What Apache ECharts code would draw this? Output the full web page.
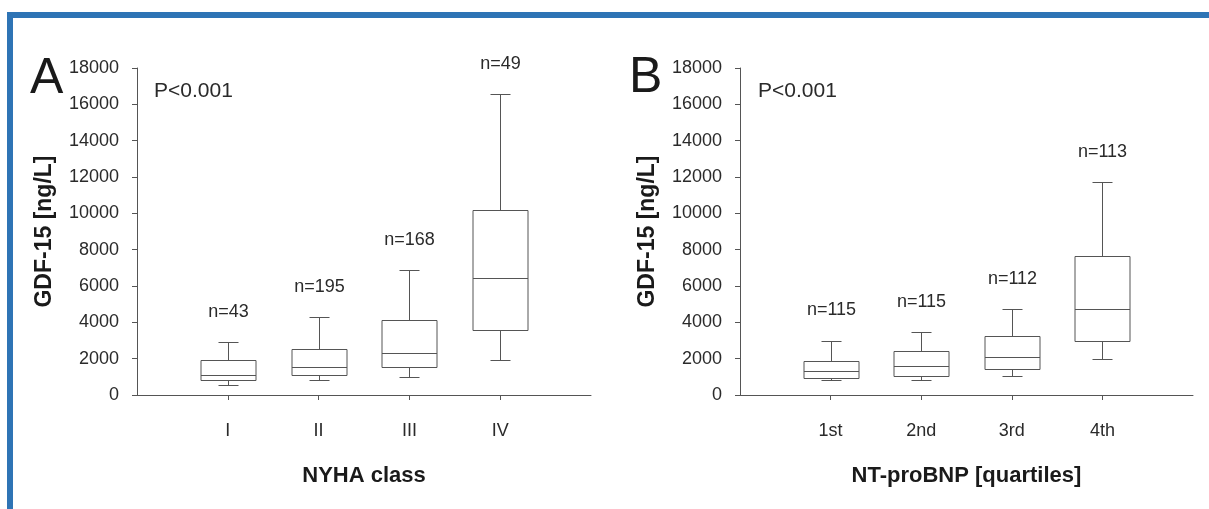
<!DOCTYPE html>
<html>
<head>
<meta charset="utf-8">
<script src="https://cdn.jsdelivr.net/npm/echarts@6/dist/echarts.min.js"></script>
<style>
html,body{margin:0;padding:0;background:#fff;}
#chart{width:1209px;height:509px;}
</style>
</head>
<body>
<div id="chart"></div>
<script>
// ---- data ----
const catsA = ['I', 'II', 'III', 'IV'];
const nA = [43, 195, 168, 49];
// [whisker low, Q1, median, Q3, whisker high]
const boxA = [
  [550, 850, 1100, 1900, 2900],
  [800, 1100, 1550, 2550, 4300],
  [1000, 1550, 2300, 4150, 6900],
  [1900, 3600, 6450, 10200, 16550]
];
const catsB = ['1st', '2nd', '3rd', '4th'];
const nB = [115, 115, 112, 113];
const boxB = [
  [850, 950, 1300, 1850, 3000],
  [850, 1050, 1600, 2400, 3450],
  [1050, 1450, 2100, 3250, 4750],
  [2000, 2950, 4750, 7650, 11700]
];
const yMin = 0, yMax = 18000, yStep = 2000;
const catPositions = [1, 2, 3, 4];
const panelLetters = ['A', 'B'];
const pText = 'P<0.001';
const xTitles = ['NYHA class', 'NT-proBNP [quartiles]'];
const yTitle = 'GDF-15 [ng/L]';

const FONT = 'Liberation Sans, Arial, sans-serif';
const LINE = '#555';
const TXT = '#2a2a2a';

function makeRender(nArr) {
  return function (params, api) {
    const x = api.value(0);
    const lo = api.coord([x, api.value(1)]);
    const q1 = api.coord([x, api.value(2)]);
    const md = api.coord([x, api.value(3)]);
    const q3 = api.coord([x, api.value(4)]);
    const hi = api.coord([x, api.value(5)]);
    const cx = Math.round(lo[0]) + 0.5;
    const r = v => Math.round(v) + 0.5;
    const bw = 55, cw = 20;
    const st = { stroke: LINE, lineWidth: 1, fill: null };
    return {
      type: 'group',
      children: [
        { type: 'line', shape: { x1: cx, y1: r(q3[1]), x2: cx, y2: r(hi[1]) }, style: st },
        { type: 'line', shape: { x1: cx - cw / 2, y1: r(hi[1]), x2: cx + cw / 2, y2: r(hi[1]) }, style: st },
        { type: 'line', shape: { x1: cx, y1: r(q1[1]), x2: cx, y2: r(lo[1]) }, style: st },
        { type: 'line', shape: { x1: cx - cw / 2, y1: r(lo[1]), x2: cx + cw / 2, y2: r(lo[1]) }, style: st },
        { type: 'rect', shape: { x: cx - bw / 2, y: r(q3[1]), width: bw, height: Math.round(q1[1]) - Math.round(q3[1]) },
          style: { stroke: LINE, lineWidth: 1, fill: '#fff' } },
        { type: 'line', shape: { x1: cx - bw / 2, y1: r(md[1]), x2: cx + bw / 2, y2: r(md[1]) }, style: st },
        { type: 'text', x: cx, y: hi[1] - 30,
          style: { text: 'n=' + nArr[params.dataIndex], fill: TXT, font: '18px ' + FONT,
                   align: 'center', verticalAlign: 'middle' } }
      ]
    };
  };
}

function seriesData(boxes) {
  return boxes.map((b, i) => [catPositions[i]].concat(b));
}

function xAxisFor(idx, cats) {
  return {
    type: 'value', gridIndex: idx, min: 0, max: 5,
    axisLine: { show: true, lineStyle: { color: LINE, width: 1 } },
    axisTick: { show: true, customValues: catPositions, length: 5, lineStyle: { color: LINE } },
    axisLabel: { show: true, customValues: catPositions, margin: 27,
      formatter: v => cats[Math.round(v) - 1] || '',
      fontFamily: FONT, fontSize: 18, color: TXT },
    splitLine: { show: false },
    name: xTitles[idx], nameLocation: 'middle', nameGap: 70,
    nameTextStyle: { fontFamily: FONT, fontSize: 22, fontWeight: 'bold', color: '#1a1a1a' }
  };
}
function yAxisFor(idx) {
  return {
    type: 'value', gridIndex: idx, min: yMin, max: yMax, interval: yStep,
    axisLine: { show: true, lineStyle: { color: LINE, width: 1 } },
    axisTick: { show: true, length: 5, lineStyle: { color: LINE } },
    axisLabel: { margin: 18, fontFamily: FONT, fontSize: 18, color: TXT, formatter: v => String(v) },
    splitLine: { show: false },
    name: yTitle, nameLocation: 'middle', nameGap: 81, nameRotate: 90,
    nameTextStyle: { fontFamily: FONT, fontSize: 23, fontWeight: 'bold', color: '#1a1a1a' }
  };
}

const chart = echarts.init(document.getElementById('chart'), null, { renderer: 'canvas' });
chart.setOption({
  backgroundColor: '#fff',
  animation: false,
  grid: [
    { left: 137, top: 68, width: 454, height: 327 },
    { left: 740, top: 68, width: 453, height: 327 }
  ],
  xAxis: [xAxisFor(0, catsA), xAxisFor(1, catsB)],
  yAxis: [yAxisFor(0), yAxisFor(1)],
  series: [
    { type: 'custom', xAxisIndex: 0, yAxisIndex: 0, renderItem: makeRender(nA),
      data: seriesData(boxA), encode: { x: 0, y: [1, 2, 3, 4, 5] }, clip: false },
    { type: 'custom', xAxisIndex: 1, yAxisIndex: 1, renderItem: makeRender(nB),
      data: seriesData(boxB), encode: { x: 0, y: [1, 2, 3, 4, 5] }, clip: false }
  ],
  graphic: [
    { type: 'rect', left: 7, top: 12, shape: { width: 1202, height: 6 }, style: { fill: '#2e74b5' } },
    { type: 'rect', left: 7, top: 12, shape: { width: 6, height: 497 }, style: { fill: '#2e74b5' } },
    { type: 'text', x: 30, y: 79, style: { text: panelLetters[0], font: '50px ' + FONT, fill: '#1a1a1a', verticalAlign: 'middle' } },
    { type: 'text', x: 629, y: 78, style: { text: panelLetters[1], font: '50px ' + FONT, fill: '#1a1a1a', verticalAlign: 'middle' } },
    { type: 'text', x: 154, y: 91, style: { text: pText, font: '21px ' + FONT, fill: TXT, verticalAlign: 'middle' } },
    { type: 'text', x: 758, y: 91, style: { text: pText, font: '21px ' + FONT, fill: TXT, verticalAlign: 'middle' } }
  ]
});
</script>
</body>
</html>
